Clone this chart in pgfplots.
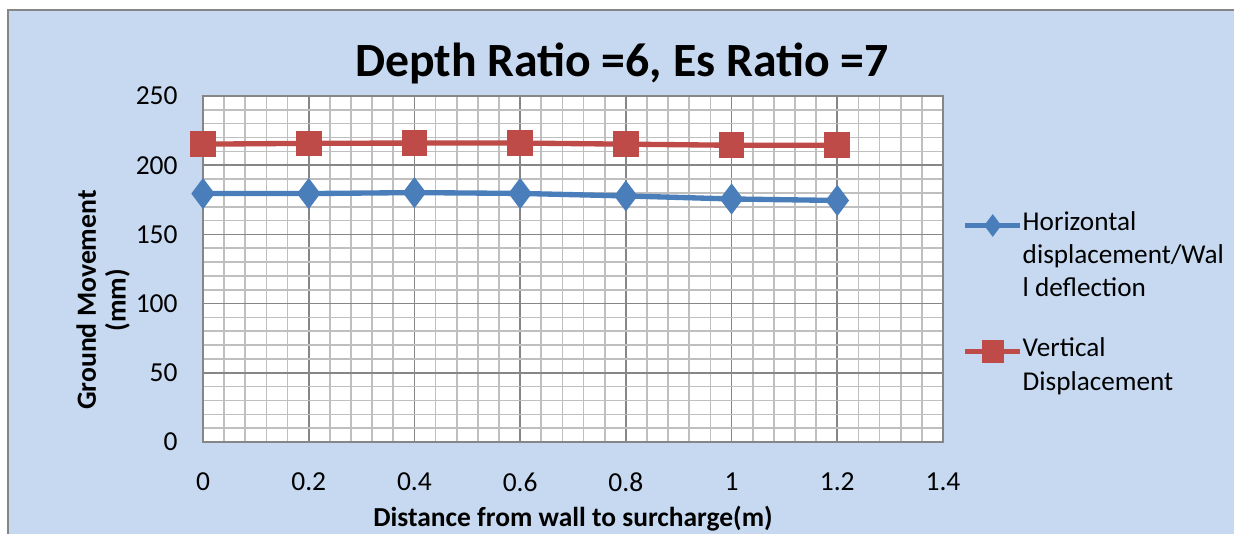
\documentclass[border=0pt]{standalone}
\usepackage{fontspec}
\setmainfont{Carlito}
\usepackage{pgfplots}
\pgfplotsset{compat=1.18}
\definecolor{chartbg}{HTML}{C6D9F1}
\definecolor{serblue}{HTML}{4A7EBB}
\definecolor{serred}{HTML}{BE4B48}
\definecolor{gridminor}{HTML}{BFBFBF}
\definecolor{gridmajor}{HTML}{868686}
\begin{document}
\begin{tikzpicture}
\path[use as bounding box] (-76.125pt,-34.5pt) rectangle (386.625pt,165.75pt);
\fill[chartbg] (-73.125pt,-40pt) rectangle (390pt,162pt);
\draw[gridmajor, line width=0.6pt] (-73.125pt,-40pt) -- (-73.125pt,162pt) -- (390pt,162pt);
\begin{axis}[
  at={(0,0)}, anchor=south west,
  scale only axis, width=277.5pt, height=129.75pt,
  axis background/.style={fill=white},
  xmin=0, xmax=1.4, ymin=0, ymax=250,
  xtick={0,0.2,...,1.4}, ytick={0,50,...,250},
  minor x tick num=4, minor y tick num=4,
  grid=both,
  minor grid style={draw=gridminor, line width=0.6pt},
  major grid style={draw=gridmajor, line width=0.6pt},
  major tick length=0pt, minor tick length=0pt,
  axis line style={draw=gridmajor, line width=0.6pt},
  tick label style={font=\fontsize{10.3}{12}\selectfont},
  /pgf/number format/assume math mode=true,
  xticklabel style={yshift=-8pt},
  yticklabel style={xshift=-6pt},
  title={\bfseries\fontsize{17.9}{20}\selectfont Depth Ratio =6, Es Ratio =7},
  title style={at={(0.566,1.049)}, anchor=center},
  xlabel={\bfseries Distance from wall to surcharge(m)},
  xlabel style={at={(0.5,-0.2225)}, anchor=center, font=\fontsize{10.3}{12}\selectfont},
  ylabel={\bfseries Ground Movement\\\bfseries (mm)},
  ylabel style={at={(-0.135,0.41)}, anchor=center, align=center, font=\fontsize{10.4}{11.2}\selectfont},
  legend style={at={(1.026,0.675)}, anchor=north west, draw=none, fill=none,
                font=\fontsize{10.2}{12.4}\selectfont, inner sep=0pt, column sep=0pt,
                nodes={inner sep=0pt, text height=8.2pt, text depth=4.2pt}},
  legend cell align=left,
  legend image code/.code={\draw[mark repeat=2,mark phase=2] plot coordinates {(0cm,0cm)(0.36cm,0cm)(0.72cm,0cm)};},
]
\addplot[serblue, line width=2pt, mark=diamond*, mark size=4.2pt, mark options={solid}, forget plot]
  coordinates {(0,179.5) (0.2,179.5) (0.4,180.2) (0.6,179.6) (0.8,177.8) (1.0,175.6) (1.2,174.5)};
\addplot[serred, line width=2pt, mark=square*, mark size=3.8pt, mark options={solid}, forget plot]
  coordinates {(0,215.2) (0.2,215.8) (0.4,216) (0.6,216) (0.8,215.2) (1.0,214.4) (1.2,214.4)};
\addlegendimage{serblue, line width=2pt, mark=diamond*, mark size=2.6pt, mark options={solid}}
\addlegendentry{Horizontal}
\addlegendimage{empty legend}
\addlegendentry{displacement/Wal}
\addlegendimage{empty legend}
\addlegendentry{l deflection}
\addlegendimage{empty legend}
\addlegendentry[text height=5.9pt]{}
\addlegendimage{serred, line width=2pt, mark=square*, mark size=3.2pt, mark options={solid}}
\addlegendentry{Vertical}
\addlegendimage{empty legend}
\addlegendentry{Displacement}
\end{axis}
\end{tikzpicture}
\end{document}
